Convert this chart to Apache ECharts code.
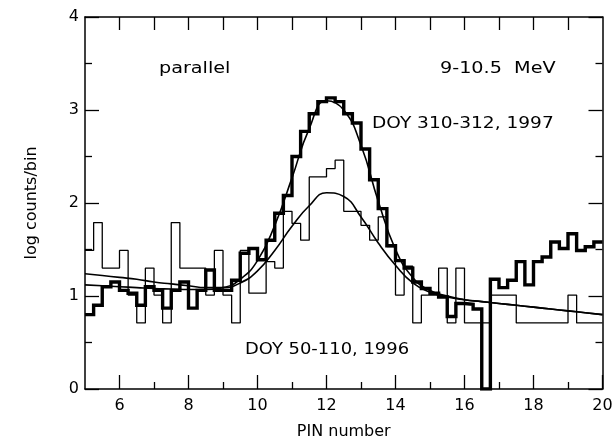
<!DOCTYPE html>
<html>
<head>
<meta charset="utf-8">
<script src="https://cdn.jsdelivr.net/npm/echarts@6/dist/echarts.min.js"></script>
<style>
html,body{margin:0;padding:0;background:#fff;}
#c{width:616px;height:446px;}
</style>
</head>
<body>
<div id="c"></div>
<script>
// ---- data ----
const binStart = 5;      // first bin edge (PIN number)
const binWidth = 0.25;   // bin width
// DOY 310-312, 1997 (thick histogram), log counts/bin per bin
const counts1997 = [
  0.80, 0.90, 1.10, 1.15, 1.06, 1.03, 0.90, 1.10, 1.06, 0.87,
  1.06, 1.15, 0.87, 1.06, 1.28, 1.06, 1.06, 1.17, 1.46, 1.51,
  1.39, 1.60, 1.89, 2.08, 2.50, 2.77, 2.96, 3.09, 3.13, 3.09,
  2.96, 2.86, 2.58, 2.25, 1.94, 1.54, 1.38, 1.30, 1.15, 1.08,
  1.03, 0.99, 0.78, 0.92, 0.91, 0.86, 0.00, 1.18, 1.09, 1.17,
  1.37, 1.12, 1.37, 1.42, 1.58, 1.51, 1.67, 1.49, 1.53, 1.58
];
// DOY 50-110, 1996 (thin histogram)
const counts1996 = [
  1.49, 1.79, 1.30, 1.30, 1.49, 1.01, 0.71, 1.30, 1.01, 0.71,
  1.79, 1.30, 1.30, 1.30, 1.01, 1.49, 1.01, 0.71, 1.49, 1.03,
  1.03, 1.37, 1.30, 1.91, 1.78, 1.60, 2.28, 2.28, 2.37, 2.46,
  1.91, 1.91, 1.76, 1.60, 1.85, 1.53, 1.01, 1.32, 0.71, 1.01,
  1.01, 1.30, 0.71, 1.30, 0.71, 0.71, 0.71, 1.01, 1.01, 1.01,
  0.71, 0.71, 0.71, 0.71, 0.71, 0.71, 1.01, 0.71, 0.71, 0.71
];
// fitted curves, every 0.5 PIN
const fitX    = [5, 5.5, 6, 6.5, 7, 7.5, 8, 8.5, 9, 9.5, 10, 10.5, 11, 11.5, 12, 12.5, 13, 13.5, 14, 14.5, 15, 15.5, 16, 16.5, 17, 17.5, 18, 18.5, 19, 19.5, 20];
const fit1997 = [1.12, 1.11, 1.10, 1.09, 1.08, 1.075, 1.07, 1.07, 1.09, 1.18, 1.38, 1.76, 2.27, 2.80, 3.10, 3.00, 2.62, 2.02, 1.50, 1.20, 1.06, 1.00, 0.96, 0.94, 0.92, 0.90, 0.88, 0.86, 0.84, 0.82, 0.80];
const fit1996 = [1.24, 1.22, 1.20, 1.18, 1.15, 1.13, 1.11, 1.09, 1.09, 1.14, 1.27, 1.49, 1.75, 1.97, 2.11, 2.07, 1.85, 1.57, 1.33, 1.14, 1.04, 0.99, 0.96, 0.94, 0.92, 0.90, 0.88, 0.86, 0.84, 0.82, 0.80];
// axis ticks / labels
const xMin = 5, xMax = 20;
const xMajorTicks = [6, 8, 10, 12, 14, 16, 18, 20];
const xMinorTicks = [7, 9, 11, 13, 15, 17, 19];
const xTopTicks = [6, 7, 8, 9, 10, 11, 12, 13, 14, 15, 16, 17, 18, 19];
const yMin = 0, yMax = 4;

// ---- build ----
function histPoints(vals) {
  const pts = vals.map((v, i) => [binStart + i * binWidth, v]);
  pts.push([binStart + vals.length * binWidth, vals[vals.length - 1]]);
  return pts;
}
function pairs(xs, ys) { return xs.map((x, i) => [x, ys[i]]); }

const FONT = 'DejaVu Sans';
const axisLineStyle = { color: '#000', width: 1.5 };

const chart = echarts.init(document.getElementById('c'), null, { renderer: 'canvas' });
chart.setOption({
  animation: false,
  backgroundColor: '#fff',
  grid: { left: 85, right: 13.5, top: 17, bottom: 57, containLabel: false },
  xAxis: [
    {
      type: 'value', position: 'bottom', min: xMin, max: xMax,
      axisLine: { show: true, onZero: false, lineStyle: axisLineStyle },
      axisTick: { show: true, inside: true, length: 14, customValues: xMajorTicks, lineStyle: { color: '#000', width: 1.3 } },
      axisLabel: { show: true, customValues: xMajorTicks, color: '#000', fontSize: 16, fontFamily: FONT, margin: 9 },
      splitLine: { show: false },
      name: 'PIN number', nameLocation: 'middle', nameGap: 35,
      nameTextStyle: { color: '#000', fontSize: 16, fontFamily: FONT }
    },
    {
      type: 'value', position: 'bottom', min: xMin, max: xMax,
      axisLine: { show: false, onZero: false },
      axisTick: { show: true, inside: true, length: 7, customValues: xMinorTicks, lineStyle: { color: '#000', width: 1.3 } },
      axisLabel: { show: false },
      splitLine: { show: false }
    },
    {
      type: 'value', position: 'top', min: xMin, max: xMax,
      axisLine: { show: true, onZero: false, lineStyle: axisLineStyle },
      axisTick: { show: true, inside: true, length: 13, customValues: xTopTicks, lineStyle: { color: '#000', width: 1.3 } },
      axisLabel: { show: false },
      splitLine: { show: false }
    }
  ],
  yAxis: [
    {
      type: 'value', position: 'left', min: yMin, max: yMax, interval: 1,
      axisLine: { show: true, onZero: false, lineStyle: axisLineStyle },
      axisTick: { show: true, inside: true, length: 14, lineStyle: { color: '#000', width: 1.3 } },
      minorTick: { show: true, splitNumber: 2, length: 7, lineStyle: { color: '#000', width: 1.3 } },
      axisLabel: { color: '#000', fontSize: 16, fontFamily: FONT, margin: 6 },
      splitLine: { show: false }, minorSplitLine: { show: false },
      name: 'log counts/bin', nameLocation: 'middle', nameGap: 45, nameRotate: 90,
      nameTextStyle: { color: '#000', fontSize: 16, fontFamily: FONT }
    },
    {
      type: 'value', position: 'right', min: yMin, max: yMax, interval: 1,
      axisLine: { show: true, onZero: false, lineStyle: axisLineStyle },
      axisTick: { show: true, inside: true, length: 14, lineStyle: { color: '#000', width: 1.3 } },
      minorTick: { show: true, splitNumber: 2, length: 7, lineStyle: { color: '#000', width: 1.3 } },
      axisLabel: { show: false },
      splitLine: { show: false }, minorSplitLine: { show: false }
    }
  ],
  series: [
    {
      name: 'DOY 50-110, 1996', type: 'line', step: 'end', data: histPoints(counts1996),
      showSymbol: false, symbol: 'none', clip: true,
      lineStyle: { color: '#000', width: 1.3 }
    },
    {
      name: 'DOY 310-312, 1997', type: 'line', step: 'end', data: histPoints(counts1997),
      showSymbol: false, symbol: 'none', clip: true,
      lineStyle: { color: '#000', width: 3.4, join: 'miter' }
    },
    {
      name: 'fit 1996', type: 'line', smooth: 0.5, data: pairs(fitX, fit1996),
      showSymbol: false, symbol: 'none',
      lineStyle: { color: '#000', width: 1.6 }
    },
    {
      name: 'fit 1997', type: 'line', smooth: 0.5, data: pairs(fitX, fit1997),
      showSymbol: false, symbol: 'none',
      lineStyle: { color: '#000', width: 1.6 }
    }
  ],
  graphic: [
    { type: 'text', x: 159, y: 61, scaleX: 1.2, style: { text: 'parallel', fill: '#000', font: '16px "DejaVu Sans"' } },
    { type: 'text', x: 440, y: 61, scaleX: 1.2, style: { text: '9-10.5  MeV', fill: '#000', font: '16px "DejaVu Sans"' } },
    { type: 'text', x: 372, y: 116, scaleX: 1.16, style: { text: 'DOY 310-312, 1997', fill: '#000', font: '16px "DejaVu Sans"' } },
    { type: 'text', x: 245, y: 342, scaleX: 1.12, style: { text: 'DOY 50-110, 1996', fill: '#000', font: '16px "DejaVu Sans"' } }
  ]
});
</script>
</body>
</html>
